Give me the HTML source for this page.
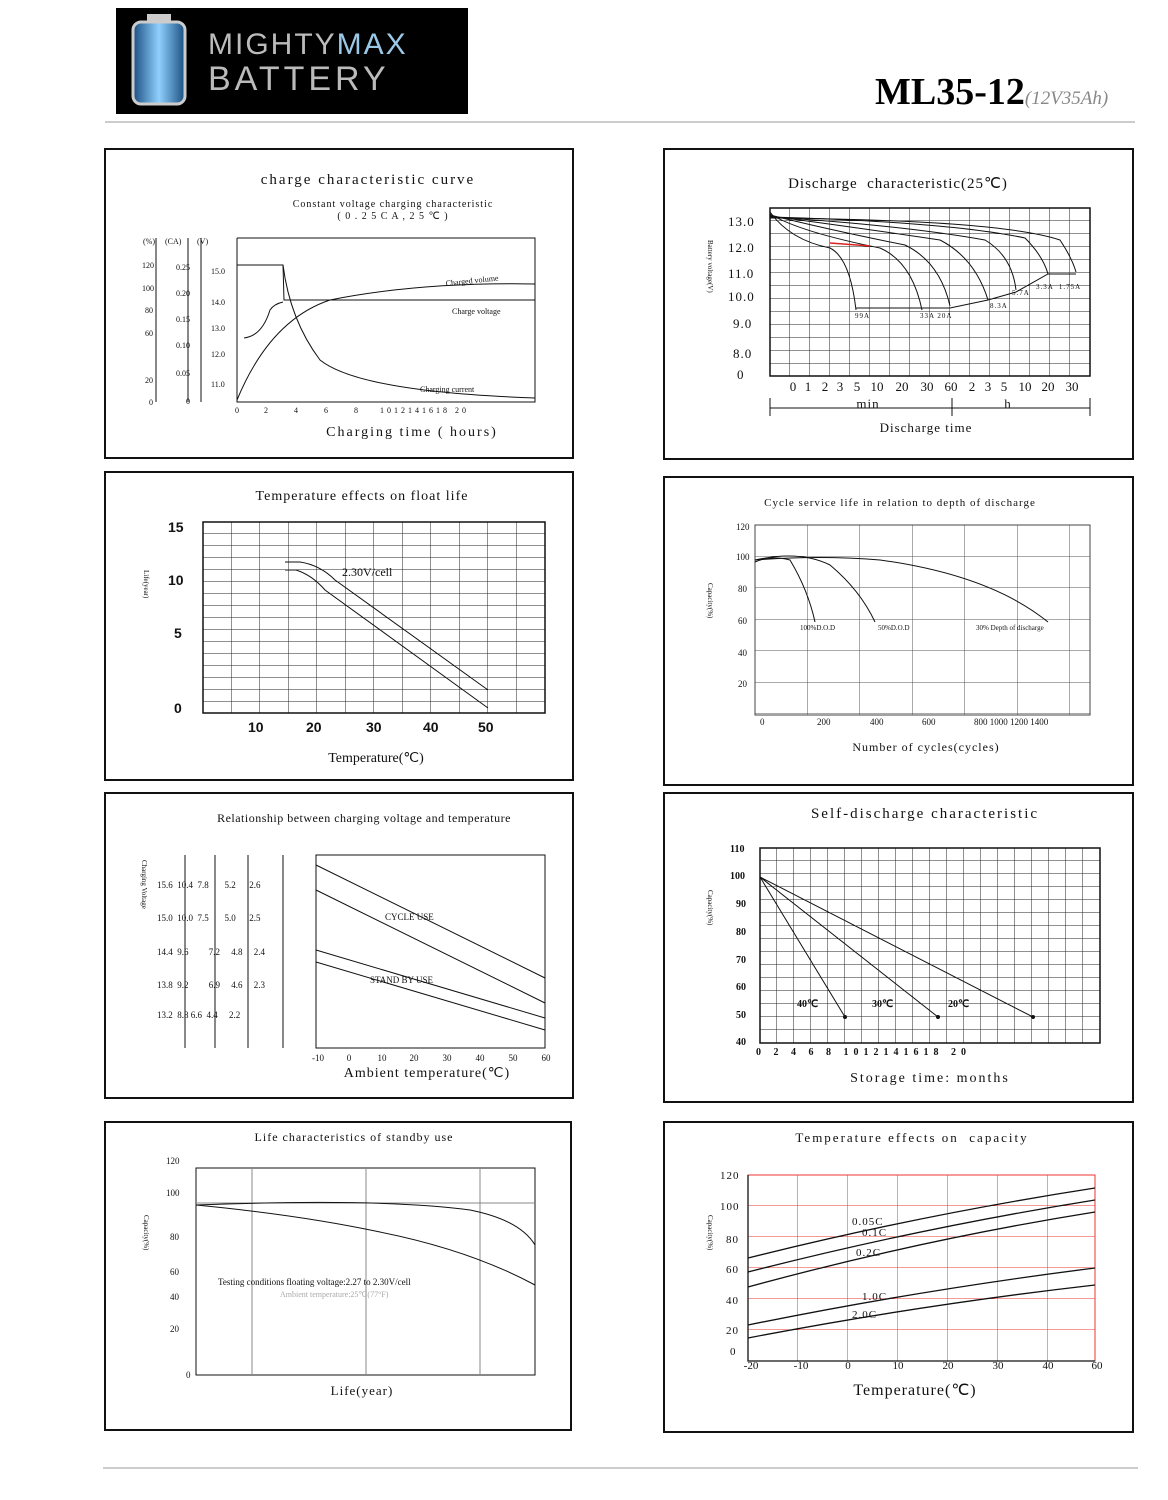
<!DOCTYPE html>
<html><head><meta charset="utf-8"><style>
html,body{margin:0;padding:0;background:#fff;}
svg{display:block;font-family:"Liberation Serif",serif;}
svg text{white-space:pre;}
</style></head><body>
<svg width="1168" height="1500" viewBox="0 0 1168 1500" xmlns="http://www.w3.org/2000/svg" xml:space="preserve">
<defs>
<pattern id="g2" x="770" y="208" width="20" height="13" patternUnits="userSpaceOnUse"><path d="M20 0V13M0 13H20" stroke="#222" stroke-width="1" fill="none"/></pattern>
<pattern id="g3" x="203" y="522" width="28.5" height="12" patternUnits="userSpaceOnUse"><path d="M28.5 0V12M0 12H28.5" stroke="#222" stroke-width="1" fill="none"/></pattern>
<pattern id="g4" x="755" y="525" width="52.5" height="31.5" patternUnits="userSpaceOnUse"><path d="M52.5 0V31.5M0 31.5H52.5" stroke="#555" stroke-width="1" fill="none"/></pattern>
<pattern id="g6" x="760" y="848" width="17" height="13" patternUnits="userSpaceOnUse"><path d="M17 0V13M0 13H17" stroke="#222" stroke-width="1" fill="none"/></pattern>
<pattern id="g8" x="748" y="1175" width="50" height="31" patternUnits="userSpaceOnUse"><path d="M50 0V31M0 31H50" stroke="#e33" stroke-width="1" fill="none"/></pattern>
<linearGradient id="bat" x1="0" x2="1"><stop offset="0" stop-color="#1a4f80"/><stop offset=".5" stop-color="#8fd0ff"/><stop offset="1" stop-color="#1a4f80"/></linearGradient>
</defs>
<rect x="116" y="8" width="352" height="106" fill="#000"/>
<rect x="133" y="22" width="52" height="82" rx="8" fill="url(#bat)" stroke="#ccc" stroke-width="3"/>
<rect x="147" y="14" width="24" height="8" fill="#ccc"/>
<text x="208" y="54" font-family="Liberation Sans,sans-serif" font-size="30" fill="#bbb" letter-spacing="2">MIGHTY<tspan fill="#9cc8e8">MAX</tspan></text>
<text x="208" y="90" font-family="Liberation Sans,sans-serif" font-size="34" fill="#bbb" letter-spacing="4">BATTERY</text>
<text x="875" y="104" font-size="38" font-weight="bold">ML35-12<tspan font-size="19" font-style="italic" font-weight="normal" fill="#888">(12V35Ah)</tspan></text>
<line x1="105" y1="122" x2="1135" y2="122" stroke="#999" stroke-width="1"/>
<line x1="103" y1="1468" x2="1138" y2="1468" stroke="#999" stroke-width="1"/>
<g fill="none" stroke="#111" stroke-width="2">
<rect x="105" y="149" width="468" height="309"/>
<rect x="664" y="149" width="469" height="310"/>
<rect x="105" y="472" width="468" height="308"/>
<rect x="664" y="477" width="469" height="308"/>
<rect x="105" y="793" width="468" height="305"/>
<rect x="664" y="793" width="469" height="309"/>
<rect x="105" y="1122" width="466" height="308"/>
<rect x="664" y="1122" width="469" height="310"/>
</g>
<g font-size="14" fill="#111">
<text x="368" y="184" text-anchor="middle" font-size="15" letter-spacing="2">charge characteristic curve</text>
<text x="393" y="207" text-anchor="middle" font-size="10" letter-spacing="1">Constant voltage charging characteristic</text>
<text x="393" y="219" text-anchor="middle" font-size="10" letter-spacing="1">( 0 . 2 5 C A , 2 5 ℃ )</text>
<g font-size="8"><text x="143" y="244">(%)</text><text x="165" y="244">(CA)</text><text x="197" y="244">(V)</text>
<text x="142" y="268">120</text><text x="142" y="291">100</text><text x="145" y="313">80</text><text x="145" y="336">60</text><text x="145" y="383">20</text><text x="149" y="405">0</text>
<text x="176" y="270">0.25</text><text x="176" y="296">0.20</text><text x="176" y="322">0.15</text><text x="176" y="348">0.10</text><text x="176" y="376">0.05</text><text x="186" y="404">0</text>
<text x="211" y="274">15.0</text><text x="211" y="305">14.0</text><text x="211" y="331">13.0</text><text x="211" y="357">12.0</text><text x="211" y="387">11.0</text>
<text x="235" y="413">0</text><text x="264" y="413">2</text><text x="294" y="413">4</text><text x="324" y="413">6</text><text x="354" y="413">8</text><text x="380" y="413" letter-spacing="3">1012141618 20</text>
<text x="446" y="286" transform="rotate(-6 446 286)">Charged volume</text><text x="452" y="314">Charge voltage</text><text x="420" y="392">Charging current</text></g>
<text x="412" y="436" text-anchor="middle" letter-spacing="2">Charging time ( hours)</text>
</g>
<g fill="none" stroke="#111" stroke-width="1">
<path d="M156 238V402M188 238V402M201 238V402M237 238V402H535V238H237"/>
<path d="M237 265H283L284 300H535"/>
<path d="M244 338Q262 336 270 310Q274 304 283 302"/>
<path d="M237 400Q270 320 330 300Q420 282 535 284"/>
<path d="M283 265Q290 320 320 360Q360 392 535 398"/>
</g>
<rect x="770" y="208" width="320" height="168" fill="url(#g2)" stroke="#111" stroke-width="1.5"/>
<g fill="none" stroke="#111" stroke-width="1">
<path d="M770 212Q790 240 830 248Q850 258 856 310"/>
<path d="M770 214Q800 232 880 248Q912 262 922 310"/>
<path d="M770 215Q830 230 905 245Q940 262 950 306"/>
<path d="M770 216Q860 228 940 240Q975 258 988 300"/>
<path d="M770 217Q900 225 985 240Q1012 256 1016 290"/>
<path d="M770 217Q950 222 1025 238Q1043 256 1048 274"/>
<path d="M770 218Q1000 220 1060 240Q1072 258 1076 272"/>
<path d="M856 308H950L988 300L1016 292L1048 274H1076"/>
</g>
<path d="M830 243L870 246" stroke="#d22" stroke-width="1.5"/>
<g font-size="13" fill="#111" letter-spacing="1">
<text x="898" y="188" text-anchor="middle" font-size="15">Discharge  characteristic(25℃)</text>
<text x="728" y="226">13.0</text><text x="728" y="252">12.0</text><text x="728" y="278">11.0</text><text x="728" y="301">10.0</text><text x="733" y="328">9.0</text><text x="733" y="358">8.0</text><text x="737" y="379">0</text>
<g text-anchor="middle" letter-spacing="0"><text x="793" y="391">0</text><text x="808" y="391">1</text><text x="825" y="391">2</text><text x="840" y="391">3</text><text x="857" y="391">5</text><text x="877" y="391">10</text><text x="902" y="391">20</text><text x="927" y="391">30</text><text x="951" y="391">60</text><text x="972" y="391">2</text><text x="988" y="391">3</text><text x="1004" y="391">5</text><text x="1025" y="391">10</text><text x="1048" y="391">20</text><text x="1072" y="391">30</text></g>
<text x="868" y="408" text-anchor="middle">min</text><text x="1008" y="408" text-anchor="middle">h</text>
<text x="926" y="432" text-anchor="middle">Discharge time</text>
<g font-size="7"><text x="855" y="318">99A</text><text x="920" y="318">33A 20A</text><text x="990" y="308">8.3A</text><text x="1012" y="295">5.7A</text><text x="1036" y="289">3.3A  1.75A</text></g>
</g>
<path d="M770 398V416M1090 398V416M770 408H1090M952 398V416" stroke="#111" fill="none"/>
<rect x="203" y="522" width="342" height="191" fill="url(#g3)" stroke="#111" stroke-width="1.5"/>
<g fill="none" stroke="#111" stroke-width="1">
<path d="M285 562H300Q320 565 335 580L488 690"/>
<path d="M285 570H296Q312 575 325 590L488 708" />
</g>
<g font-size="14" fill="#111" font-family="Liberation Sans,sans-serif" font-weight="bold">
<text x="168" y="532">15</text><text x="168" y="585">10</text><text x="174" y="638">5</text><text x="174" y="713">0</text>
<text x="248" y="732">10</text><text x="306" y="732">20</text><text x="366" y="732">30</text><text x="423" y="732">40</text><text x="478" y="732">50</text>
</g>
<g font-size="14" fill="#111"><text x="362" y="500" text-anchor="middle" letter-spacing="1">Temperature effects on float life</text>
<text x="342" y="576" font-size="12">2.30V/cell</text>
<text x="376" y="762" text-anchor="middle">Temperature(℃)</text></g>
<rect x="755" y="525" width="335" height="190" fill="url(#g4)" stroke="#444" stroke-width="1"/>
<g fill="none" stroke="#111" stroke-width="1">
<path d="M755 562Q770 555 790 560Q808 590 815 622"/>
<path d="M755 560Q800 550 830 565Q860 590 875 622"/>
<path d="M755 560Q820 555 880 560Q990 575 1048 622"/>
</g>
<g font-size="9" fill="#111">
<text x="900" y="506" text-anchor="middle" font-size="11" letter-spacing="1">Cycle service life in relation to depth of discharge</text>
<text x="736" y="530">120</text><text x="736" y="560">100</text><text x="738" y="592">80</text><text x="738" y="624">60</text><text x="738" y="656">40</text><text x="738" y="687">20</text>
<text x="760" y="725">0</text><text x="817" y="725">200</text><text x="870" y="725">400</text><text x="922" y="725">600</text><text x="974" y="725">800 1000 1200 1400</text>
<text x="800" y="630" font-size="7">100%D.O.D</text><text x="878" y="630" font-size="7">50%D.O.D</text><text x="976" y="630" font-size="7">30% Depth of discharge</text>
<text x="926" y="751" text-anchor="middle" font-size="12" letter-spacing="1">Number of cycles(cycles)</text>
</g>
<rect x="316" y="855" width="229" height="193" fill="none" stroke="#111" stroke-width="1"/>
<g fill="none" stroke="#111" stroke-width="1">
<path d="M316 865L545 978M316 890L545 1003M316 950L545 1018M316 962L545 1030"/>
<path d="M185 855V1048M215 855V1048M248 855V1048M283 855V1048"/>
</g>
<g font-size="9" fill="#111">
<text x="364" y="822" text-anchor="middle" font-size="12" letter-spacing="0.5">Relationship between charging voltage and temperature</text>
<text x="157" y="888">15.6  10.4  7.8       5.2      2.6</text>
<text x="157" y="921">15.0  10.0  7.5       5.0      2.5</text>
<text x="157" y="955">14.4  9.6         7.2     4.8     2.4</text>
<text x="157" y="988">13.8  9.2         6.9     4.6     2.3</text>
<text x="157" y="1018">13.2  8.8 6.6  4.4     2.2</text>
<g text-anchor="middle"><text x="318" y="1061">-10</text><text x="349" y="1061">0</text><text x="382" y="1061">10</text><text x="414" y="1061">20</text><text x="447" y="1061">30</text><text x="480" y="1061">40</text><text x="513" y="1061">50</text><text x="546" y="1061">60</text></g>
<text x="385" y="920">CYCLE USE</text><text x="370" y="983">STAND BY USE</text>
<text x="427" y="1077" text-anchor="middle" font-size="14" letter-spacing="1">Ambient temperature(℃)</text>
</g>
<rect x="760" y="848" width="340" height="195" fill="url(#g6)" stroke="#111" stroke-width="1.5"/>
<g fill="none" stroke="#111" stroke-width="1"><path d="M760 877L845 1017M760 877L938 1017M760 877L1033 1017"/></g>
<g fill="#111"><circle cx="845" cy="1017" r="2"/><circle cx="938" cy="1017" r="2"/><circle cx="1033" cy="1017" r="2"/></g>
<g font-size="10" fill="#111" font-weight="bold">
<text x="925" y="818" text-anchor="middle" font-size="15" font-weight="normal" letter-spacing="2">Self-discharge characteristic</text>
<text x="730" y="852">110</text><text x="730" y="879">100</text><text x="736" y="907">90</text><text x="736" y="935">80</text><text x="736" y="963">70</text><text x="736" y="990">60</text><text x="736" y="1018">50</text><text x="736" y="1045">40</text>
<text x="756" y="1055" letter-spacing="5">0 2 4 6 8 1012141618 20</text>
<text x="797" y="1007">40℃</text><text x="872" y="1007">30℃</text><text x="948" y="1007">20℃</text>
<text x="930" y="1082" text-anchor="middle" font-size="14" font-weight="normal" letter-spacing="2">Storage time: months</text>
</g>
<rect x="196" y="1168" width="339" height="207" fill="none" stroke="#111" stroke-width="1"/>
<g fill="none" stroke="#111" stroke-width="1">
<path d="M196 1203H535M252 1168V1375M366 1168V1375M480 1168V1375" stroke="#888"/>
<path d="M196 1205Q380 1198 470 1210Q520 1220 535 1245"/>
<path d="M196 1205Q300 1215 380 1232Q470 1250 535 1285"/>
</g>
<g font-size="9" fill="#111">
<text x="354" y="1141" text-anchor="middle" font-size="12" letter-spacing="1">Life characteristics of standby use</text>
<text x="166" y="1164">120</text><text x="166" y="1196">100</text><text x="170" y="1240">80</text><text x="170" y="1275">60</text><text x="170" y="1300">40</text><text x="170" y="1332">20</text><text x="186" y="1378">0</text>
<text x="218" y="1285">Testing conditions floating voltage:2.27 to 2.30V/cell</text>
<text x="280" y="1297" fill="#aaa" font-size="8">Ambient temperature:25℃(77°F)</text>
<text x="362" y="1395" text-anchor="middle" font-size="13" letter-spacing="1">Life(year)</text>
</g>
<rect x="748" y="1175" width="347" height="186" fill="url(#g8)" stroke="#e33" stroke-width="1"/>
<g fill="none" stroke="#111" stroke-width="1.3">
<path d="M748 1258Q920 1215 1095 1188"/>
<path d="M748 1272Q920 1228 1095 1200"/>
<path d="M748 1287Q920 1240 1095 1212"/>
<path d="M748 1325Q920 1290 1095 1268"/>
<path d="M748 1338Q920 1305 1095 1285"/>
<path d="M748 1175V1361H1095"/>
</g>
<g font-size="11" fill="#111" letter-spacing="1">
<text x="912" y="1142" text-anchor="middle" font-size="13" letter-spacing="2">Temperature effects on  capacity</text>
<text x="720" y="1179">120</text><text x="720" y="1210">100</text><text x="726" y="1243">80</text><text x="726" y="1273">60</text><text x="726" y="1304">40</text><text x="726" y="1334">20</text><text x="730" y="1355">0</text>
<g text-anchor="middle" letter-spacing="0"><text x="751" y="1369">-20</text><text x="801" y="1369">-10</text><text x="848" y="1369">0</text><text x="898" y="1369">10</text><text x="948" y="1369">20</text><text x="998" y="1369">30</text><text x="1048" y="1369">40</text><text x="1097" y="1369">60</text></g>
<text x="852" y="1225">0.05C</text><text x="862" y="1236">0.1C</text><text x="856" y="1256">0.2C</text><text x="862" y="1300">1.0C</text><text x="852" y="1318">2.0C</text>
<text x="915" y="1395" text-anchor="middle" font-size="16">Temperature(℃)</text>
</g>
<g font-size="7" fill="#111">
<text x="710" y="240" writing-mode="tb">Battery voltage(V)</text>
<text x="146" y="570" writing-mode="tb">Life(year)</text>
<text x="710" y="583" writing-mode="tb">Capacity(%)</text>
<text x="144" y="860" writing-mode="tb">Charging Voltage</text>
<text x="710" y="890" writing-mode="tb">Capacity(%)</text>
<text x="146" y="1215" writing-mode="tb">Capacity(%)</text>
<text x="710" y="1215" writing-mode="tb">Capacity(%)</text>
</g>
</svg>
</body></html>
